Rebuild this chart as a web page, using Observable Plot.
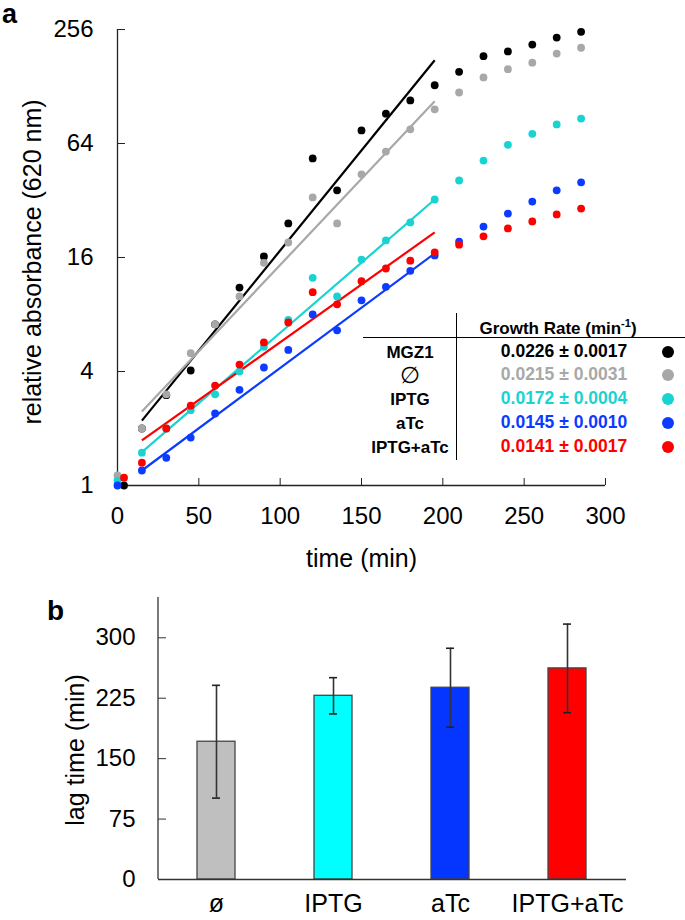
<!DOCTYPE html>
<html><head><meta charset="utf-8">
<script src="https://cdn.jsdelivr.net/npm/d3@7"></script>
<script src="https://cdn.jsdelivr.net/npm/@observablehq/plot@0.6"></script>
<style>
body{margin:0;background:#fff;}
#wrap{position:relative;width:685px;height:920px;font-family:"Liberation Sans",Arial,sans-serif;color:#000;}
.abs{position:absolute;white-space:nowrap;line-height:1;}
svg{display:block;}
</style></head><body><div id="wrap"></div>
<script>
// ---------- Panel a data ----------
const seriesNames = ["MGZ1", "∅", "IPTG", "aTc", "IPTG+aTc"];
const seriesColors = ["#000000", "#a8a8a8", "#19d3d3", "#0b3bff", "#ff0000"];
const times = [0, 15, 30, 45, 60, 75, 90, 105, 120, 135, 150, 165, 180, 195, 210, 225, 240, 255, 270, 285];
const startTimes = [4, 0, 0, 0, 4];
const mgz1Values = [1.0, 2.0, 3.0, 4.05, 7.1, 11.1, 16.2, 24.2, 53.4, 36.2, 75, 92, 108, 130, 153, 185, 196, 213, 232, 249];
const emptyValues = [1.13, 2.0, 3.03, 5.0, 7.1, 9.97, 15.0, 19.2, 33.2, 24.2, 44, 58, 76, 97, 119, 143, 158, 171, 191, 205];
const iptgValues = [1.06, 1.49, 2.0, 2.5, 3.03, 4.0, 5.4, 7.5, 12.5, 9.97, 15.6, 19.7, 24.5, 32.4, 40.8, 52, 63, 72, 80.7, 86.7];
const atcValues = [1.0, 1.2, 1.4, 1.79, 2.4, 3.2, 4.2, 5.2, 8.0, 6.6, 9.5, 11.2, 13.6, 16.4, 19.4, 23.3, 27.3, 31.6, 36.2, 39.9];
const bothValues = [1.1, 1.32, 2.0, 2.64, 3.37, 4.35, 5.7, 7.26, 10.5, 9.05, 12, 14.0, 15.4, 17, 18.7, 20.7, 22.8, 24.8, 27, 29];
const fitStartTime = 15, fitEndTime = 195;
const fitStartValues = [2.2, 2.46, 1.5, 1.2, 1.73];
const fitEndValues = [176, 107, 32.4, 16.8, 21.7];
const growthRates = ["0.0226 ± 0.0017", "0.0215 ± 0.0031", "0.0172 ± 0.0004", "0.0145 ± 0.0010", "0.0141 ± 0.0017"];
const xTicks = [0, 50, 100, 150, 200, 250, 300];
const yTicks = [1, 4, 16, 64, 256];

// ---------- Panel b data ----------
const lagCats = ["ø", "IPTG", "aTc", "IPTG+aTc"];
const lagMeans = [171, 228, 238, 262];
const lagErrors = [70, 22.5, 49, 55];
const lagColors = ["#bfbfbf", "#00ffff", "#0536ff", "#ff0000"];
const lagTicks = [0, 75, 150, 225, 300];

// ---------- build tables ----------
const allValues = [mgz1Values, emptyValues, iptgValues, atcValues, bothValues];
const points = [];
seriesNames.forEach((s, k) => allValues[k].forEach((v, i) => points.push({series: s, t: i === 0 ? startTimes[k] : times[i], v})));
const fits = seriesNames.map((s, k) => ({series: s, x1: fitStartTime, x2: fitEndTime, y1: fitStartValues[k], y2: fitEndValues[k]}));
const lagData = lagCats.map((c, i) => ({cat: c, mean: lagMeans[i], lo: lagMeans[i] - lagErrors[i], hi: lagMeans[i] + lagErrors[i]}));

const font = "'Liberation Sans', Arial, sans-serif";
const wrap = document.getElementById("wrap");

const chartA = Plot.plot({
  width: 685, height: 570,
  marginLeft: 117, marginRight: 80, marginTop: 29, marginBottom: 85,
  style: {fontFamily: font, fontSize: "24px", overflow: "visible", background: "white"},
  x: {domain: [0, 300]},
  y: {type: "log", base: 2, domain: [1, 256]},
  color: {domain: seriesNames, range: seriesColors},
  marks: [
    Plot.ruleY([1], {stroke: "#222", strokeWidth: 1.3}),
    Plot.ruleX([0], {stroke: "#222", strokeWidth: 1.3}),
    Plot.axisX({ticks: xTicks, tickSize: -7, tickPadding: 28, label: null, stroke: "#222"}),
    Plot.axisY({ticks: yTicks, tickSize: -8, tickPadding: 32, label: null, tickFormat: d => String(d), stroke: "#222"}),
    Plot.link(fits, {x1: "x1", x2: "x2", y1: "y1", y2: "y2", stroke: "series", strokeWidth: 2.2}),
    Plot.dot(points, {x: "t", y: "v", fill: "series", r: 3.9}),
    Plot.text(["time (min)"], {frameAnchor: "bottom", lineAnchor: "middle", dy: 73, fontSize: 25})
  ]
});

const yAxisLine = (index, scales, values, dim) => {
  const l = document.createElementNS("http://www.w3.org/2000/svg", "line");
  l.setAttribute("x1", dim.marginLeft); l.setAttribute("x2", dim.marginLeft);
  l.setAttribute("y1", dim.marginTop); l.setAttribute("y2", dim.height - dim.marginBottom);
  l.setAttribute("stroke", "#333"); l.setAttribute("stroke-width", 1.3);
  return l;
};

const chartB = Plot.plot({
  width: 685, height: 350,
  marginLeft: 158, marginRight: 59, marginTop: 27, marginBottom: 41,
  style: {fontFamily: font, fontSize: "24px", overflow: "visible", background: "white"},
  x: {domain: lagCats, paddingInner: 0.675, paddingOuter: 0.3375},
  y: {domain: [0, 350]},
  color: {domain: lagCats, range: lagColors},
  marks: [
    Plot.barY(lagData, {x: "cat", y: "mean", fill: "cat", stroke: "#444", strokeWidth: 1.3}),
    Plot.ruleX(lagData, {x: "cat", y1: "lo", y2: "hi", stroke: "#333", strokeWidth: 1.6}),
    Plot.tickY(lagData, {x: "cat", y: "lo", inset: 15, stroke: "#222", strokeWidth: 1.6}),
    Plot.tickY(lagData, {x: "cat", y: "hi", inset: 15, stroke: "#222", strokeWidth: 1.6}),
    Plot.ruleY([0], {stroke: "#333", strokeWidth: 1.3}),
    yAxisLine,
    Plot.axisY({ticks: lagTicks, tickSize: -8, tickPadding: 31, label: null, stroke: "#333"}),
    Plot.axisX({tickSize: 0, tickPadding: 15, label: null, fontSize: 25})
  ]
});

wrap.appendChild(chartA);
wrap.appendChild(chartB);

function addText(txt, x, y, opts = {}) {
  const d = document.createElement("div");
  d.className = "abs";
  d.innerHTML = txt;
  d.style.fontSize = (opts.size || 17) + "px";
  d.style.fontWeight = opts.weight || "bold";
  d.style.color = opts.color || "#000";
  d.style.left = x + "px";
  d.style.top = y + "px";
  let tr = opts.anchor === "start" ? "translate(0,-50%)" : "translate(-50%,-50%)";
  if (opts.rotate) tr += ` rotate(${opts.rotate}deg)`;
  d.style.transform = tr;
  if (opts.family) d.style.fontFamily = opts.family;
  wrap.appendChild(d);
  return d;
}

// axis titles
addText("relative absorbance (620 nm)", 32, 262, {size: 25, weight: "normal", rotate: -90});
addText("lag time (min)", 75, 750, {size: 25, weight: "normal", rotate: -90});

// panel letters
addText("a", 2, 14, {size: 27, anchor: "start"});
addText("b", 47, 611, {size: 28, anchor: "start"});

// growth-rate table
const rowY = [352, 375, 399, 423, 447];
addText("Growth Rate (min<sup style='font-size:11px;vertical-align:7px'>-1</sup>)", 558, 327, {size: 17});
const hl = document.createElement("div");
hl.className = "abs";
Object.assign(hl.style, {left: "363px", top: "337px", width: "322px", height: "0", borderTop: "1.2px solid #000"});
wrap.appendChild(hl);
const vl = document.createElement("div");
vl.className = "abs";
Object.assign(vl.style, {left: "456px", top: "313px", width: "0", height: "147px", borderLeft: "1.2px solid #000"});
wrap.appendChild(vl);
seriesNames.forEach((s, k) => {
  if (s === "∅") addText(s, 410, rowY[k], {size: 23, weight: "normal", family: "'DejaVu Sans', sans-serif"});
  else addText(s, 410, rowY[k], {size: 17});
  addText(growthRates[k], 564, rowY[k], {size: 17.5, color: seriesColors[k]});
  const dot = document.createElement("div");
  dot.className = "abs";
  Object.assign(dot.style, {left: "662px", top: (rowY[k] - 6) + "px", width: "12px", height: "12px", borderRadius: "50%", background: seriesColors[k]});
  wrap.appendChild(dot);
});
</script></body></html>
